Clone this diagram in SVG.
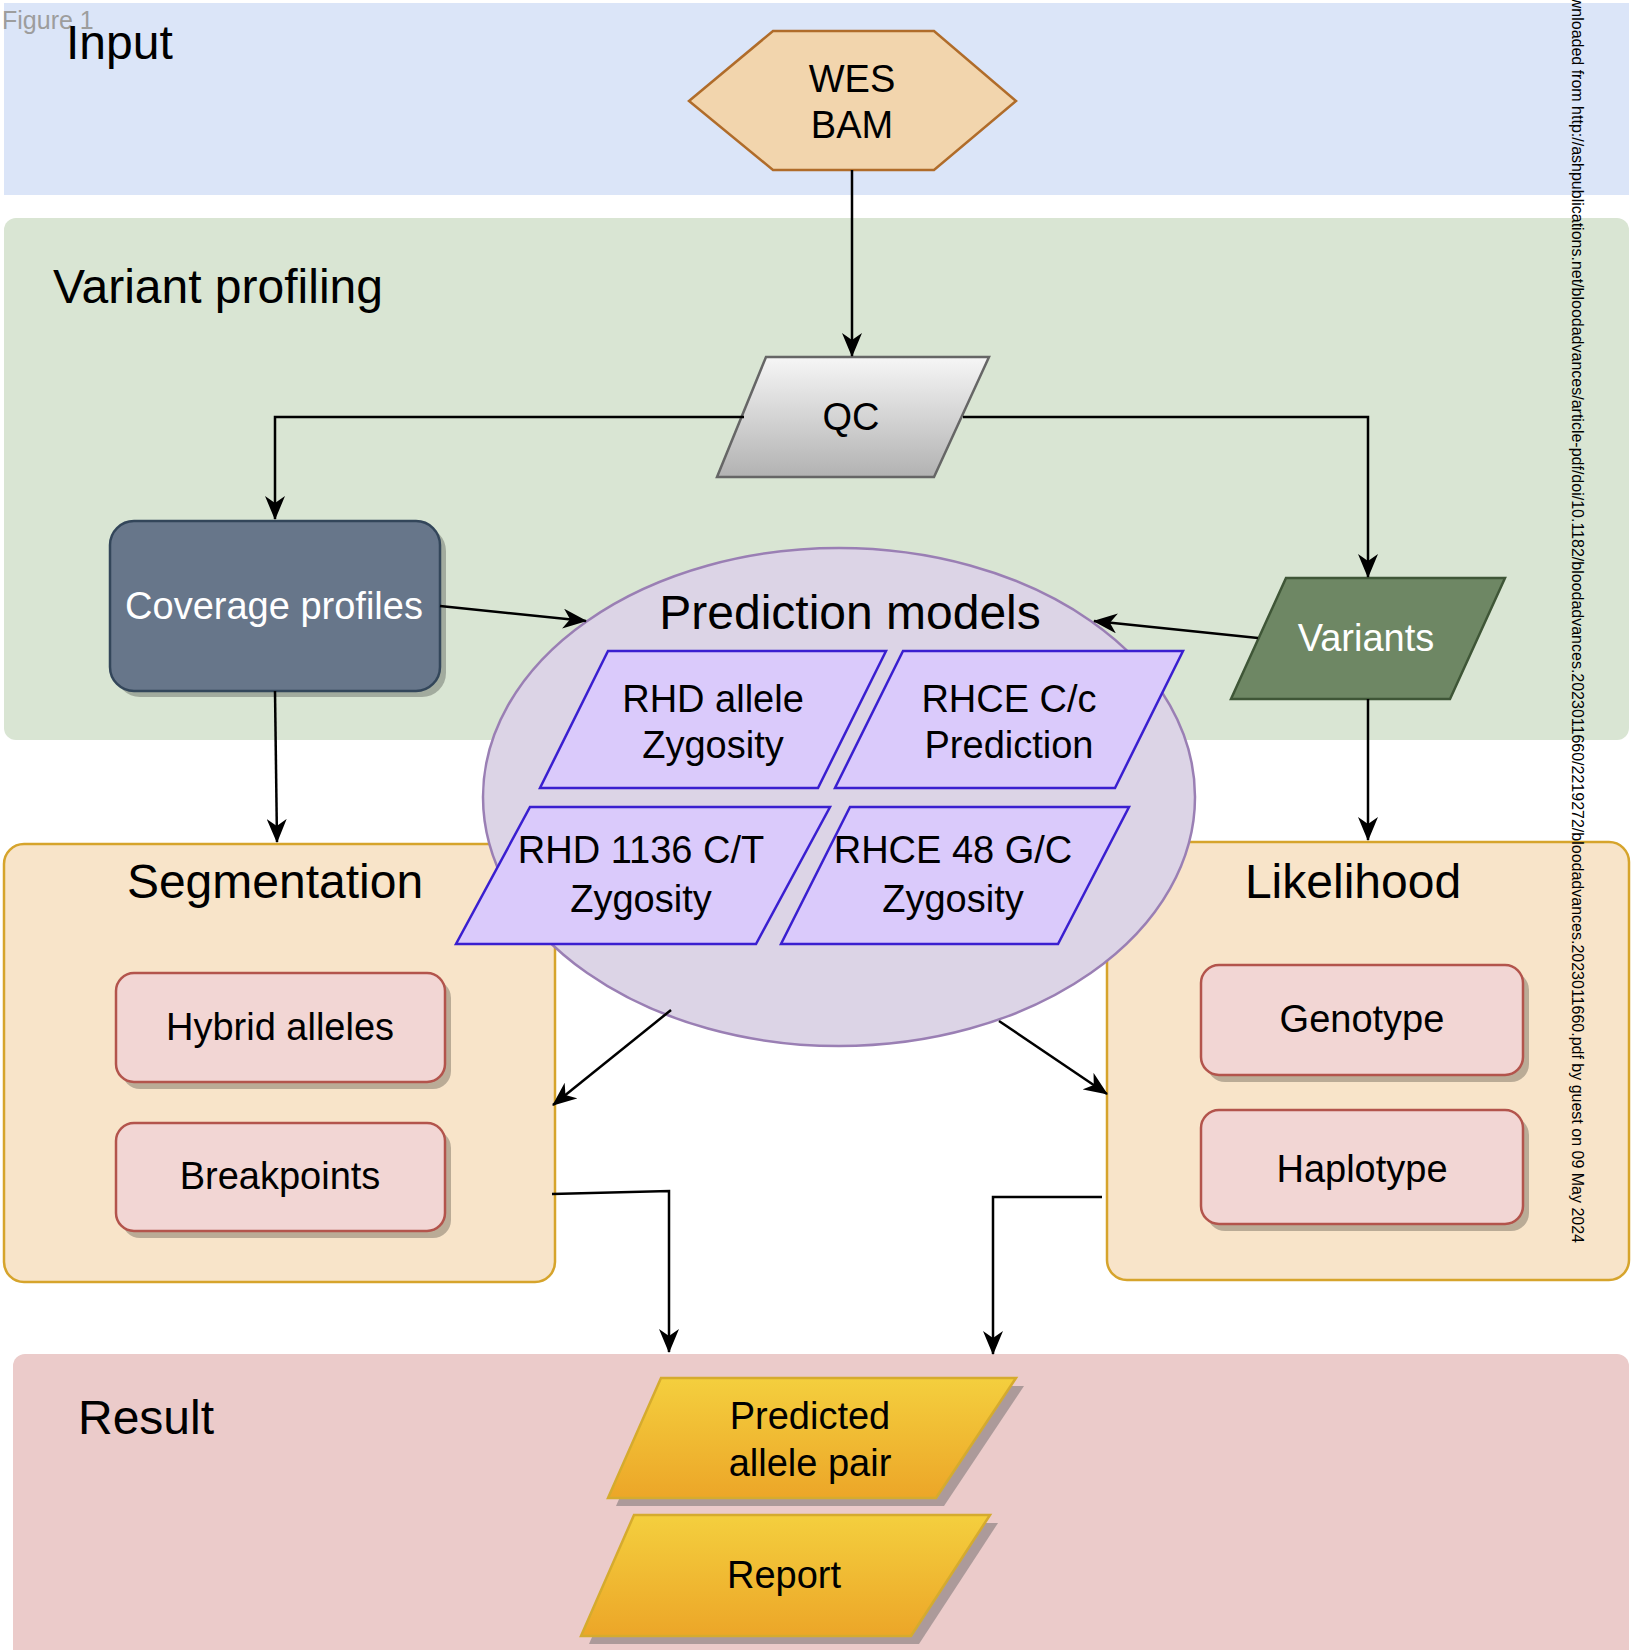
<svg xmlns="http://www.w3.org/2000/svg" width="1632" height="1650" viewBox="0 0 1632 1650">
<style>
text{font-family:"Liberation Sans",Arial,Helvetica,sans-serif;fill:#000}
.h{font-size:48px}
.t{font-size:38px;text-anchor:middle}
.w{fill:#fff}
.conn{stroke:#000;stroke-width:2.5;fill:none}
.arr{marker-end:url(#ah)}
.para{fill:#dacafb;stroke:#3a1fd0;stroke-width:2.5}
.pink{fill:#f2d6d4;stroke:#b3544c;stroke-width:2.5}
.shadow{fill:#000;opacity:0.25}
.cont{fill:#f8e4c9;stroke:#d6a42c;stroke-width:2.5}
</style>
<defs>
<marker id="ah" viewBox="0 0 24 20" refX="23" refY="10" markerWidth="24" markerHeight="20" markerUnits="userSpaceOnUse" orient="auto">
<path d="M0,0 L24,10 L0,20 L7,10 z" fill="#000"/>
</marker>
<linearGradient id="gqc" x1="0" y1="0" x2="0" y2="1">
<stop offset="0" stop-color="#f6f6f6"/>
<stop offset="1" stop-color="#b2b2b2"/>
</linearGradient>
<linearGradient id="gy" x1="0" y1="0" x2="0" y2="1">
<stop offset="0" stop-color="#f4cf3e"/>
<stop offset="1" stop-color="#eca628"/>
</linearGradient>
</defs>

<g id="bands">
<rect id="band-input" x="4" y="3" width="1625" height="192" fill="#dbe5f8"/>
<rect id="band-variant" x="4" y="218" width="1625" height="522" rx="12" fill="#d9e5d3"/>
<rect id="band-result" x="13" y="1354" width="1616" height="310" rx="12" fill="#ebcbca"/>
<text x="2" y="29" style="font-size:25px;fill:#9d9d9d">Figure 1</text>
<text class="h" x="66" y="59">Input</text>
<text class="h" x="53" y="303">Variant profiling</text>
<text class="h" x="78" y="1434">Result</text>
</g>

<g id="segmentation">
<rect class="cont" x="4" y="844" width="551" height="438" rx="20"/>
<text class="t" x="275" y="898" style="font-size:48px">Segmentation</text>
</g>
<g id="hybrid-alleles">
<rect class="shadow" x="122" y="980" width="329" height="109" rx="18"/>
<rect class="pink" x="116" y="973" width="329" height="109" rx="18"/>
<text class="t" x="280" y="1040">Hybrid alleles</text>
</g>
<g id="breakpoints">
<rect class="shadow" x="122" y="1130" width="329" height="108" rx="18"/>
<rect class="pink" x="116" y="1123" width="329" height="108" rx="18"/>
<text class="t" x="280" y="1189">Breakpoints</text>
</g>

<g id="likelihood">
<rect class="cont" x="1107" y="842" width="522" height="438" rx="20"/>
<text class="t" x="1353" y="898" style="font-size:48px">Likelihood</text>
</g>
<g id="genotype">
<rect class="shadow" x="1207" y="972" width="322" height="110" rx="18"/>
<rect class="pink" x="1201" y="965" width="322" height="110" rx="18"/>
<text class="t" x="1362" y="1032">Genotype</text>
</g>
<g id="haplotype">
<rect class="shadow" x="1207" y="1117" width="322" height="114" rx="18"/>
<rect class="pink" x="1201" y="1110" width="322" height="114" rx="18"/>
<text class="t" x="1362" y="1182">Haplotype</text>
</g>

<g id="wes-bam">
<polygon points="689,101 773,31 934,31 1016,101 934,170 773,170" fill="#f2d5ad" stroke="#b06c2a" stroke-width="2.5"/>
<text class="t" x="852" y="92">WES</text>
<text class="t" x="852" y="138">BAM</text>
</g>

<g id="qc">
<polygon points="766,357 989,357 934,477 717,477" fill="url(#gqc)" stroke="#666" stroke-width="2.5"/>
<text class="t" x="851" y="430">QC</text>
</g>

<g id="coverage-profiles">
<rect class="shadow" x="116" y="527" width="330" height="170" rx="24"/>
<rect x="110" y="521" width="330" height="170" rx="24" fill="#67768a" stroke="#33465a" stroke-width="2.5"/>
<text class="t w" x="274" y="619">Coverage profiles</text>
</g>

<g id="variants">
<polygon points="1286,578 1505,578 1450,699 1231,699" fill="#6e8764" stroke="#3f5637" stroke-width="2.5"/>
<text class="t w" x="1366" y="651">Variants</text>
</g>

<g id="prediction-models">
<ellipse cx="839" cy="797" rx="356" ry="249" fill="#dcd4e6" stroke="#9a7fb4" stroke-width="2.5"/>
<text class="t" x="850" y="629" style="font-size:48px">Prediction models</text>
</g>
<g id="rhd-allele">
<polygon class="para" points="608,651 886,651 818,788 540,788"/>
<text class="t" x="713" y="712">RHD allele</text>
<text class="t" x="713" y="758">Zygosity</text>
</g>
<g id="rhce-cc">
<polygon class="para" points="903,651 1183,651 1115,788 835,788"/>
<text class="t" x="1009" y="712">RHCE C/c</text>
<text class="t" x="1009" y="758">Prediction</text>
</g>
<g id="rhd-1136">
<polygon class="para" points="530,807 830,807 756,944 456,944"/>
<text class="t" x="641" y="863">RHD 1136 C/T</text>
<text class="t" x="641" y="912">Zygosity</text>
</g>
<g id="rhce-48">
<polygon class="para" points="850,807 1129,807 1058,944 781,944"/>
<text class="t" x="953" y="863">RHCE 48 G/C</text>
<text class="t" x="953" y="912">Zygosity</text>
</g>

<g id="predicted-allele-pair">
<polygon points="669,1386 1024,1386 944,1506 616,1506" fill="#ac9a9a"/>
<polygon points="661,1378 1016,1378 936,1498 608,1498" fill="url(#gy)" stroke="#d5ab2e" stroke-width="2.5"/>
<text class="t" x="810" y="1429">Predicted</text>
<text class="t" x="810" y="1476">allele pair</text>
</g>
<g id="report">
<polygon points="642,1523 998,1523 919,1644 589,1644" fill="#ac9a9a"/>
<polygon points="634,1515 990,1515 911,1636 581,1636" fill="url(#gy)" stroke="#d5ab2e" stroke-width="2.5"/>
<text class="t" x="784" y="1588">Report</text>
</g>

<g id="connectors">
<path class="conn arr" d="M852,170 L852,356"/>
<path class="conn arr" d="M744,417 L275,417 L275,519"/>
<path class="conn arr" d="M963,417 L1368,417 L1368,577"/>
<path class="conn arr" d="M440,606 L586,621"/>
<path class="conn arr" d="M1258,638 L1094,621"/>
<path class="conn arr" d="M275,691 L277,842"/>
<path class="conn arr" d="M1368,699 L1368,840"/>
<path class="conn arr" d="M671,1010 L553,1105"/>
<path class="conn arr" d="M999,1021 L1107,1094"/>
<path class="conn arr" d="M552,1194 L669,1191 L669,1352"/>
<path class="conn arr" d="M1102,1197 L993,1197 L993,1354"/>
</g>

<text transform="translate(1572,1243) rotate(90)" x="0" y="0" style="font-size:16px;text-anchor:end">Downloaded from http://ashpublications.net/bloodadvances/article-pdf/doi/10.1182/bloodadvances.2023011660/2219272/bloodadvances.2023011660.pdf by guest on 09 May 2024</text>
</svg>
